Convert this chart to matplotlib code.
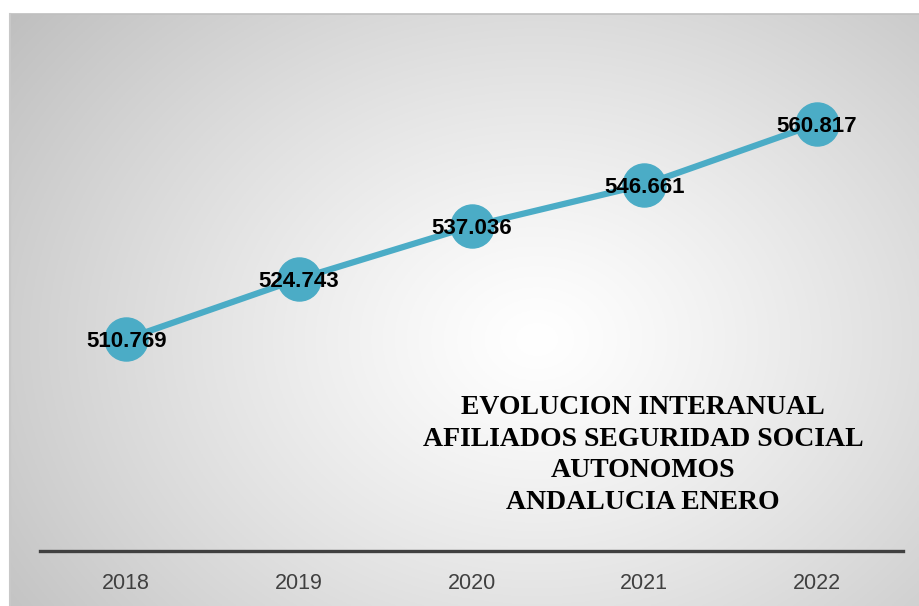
import matplotlib
matplotlib.use("Agg")
import matplotlib.pyplot as plt
import numpy as np

# datos
years = ["2018", "2019", "2020", "2021", "2022"]
afiliados = [510.769, 524.743, 537.036, 546.661, 560.817]
labels = ["510.769", "524.743", "537.036", "546.661", "560.817"]
title_lines = ["EVOLUCION INTERANUAL", "AFILIADOS SEGURIDAD SOCIAL", "AUTONOMOS", "ANDALUCIA ENERO"]

W, H = 919, 606
fig = plt.figure(figsize=(W / 100, H / 100), dpi=100)

# fondo con degradado radial
bg = fig.add_axes([10 / W, 0, 1 - 10 / W, (H - 14) / H])
bg.set_axis_off()
gx, gy = np.meshgrid(np.linspace(0, 1, 400), np.linspace(0, 1, 300))
r = np.sqrt(((gx - 0.58) / 0.66) ** 2 + ((gy - 0.45) / 0.8) ** 2)
r = np.clip(r, 0, 1.2)
shade = 1.0 - 0.22 * r ** 1.2
img = np.dstack([shade, shade, shade])
bg.imshow(img, aspect="auto", extent=[0, 1, 0, 1], origin="lower")
bg.set_xlim(0, 1)
bg.set_ylim(0, 1)
bg.plot([0, 1], [1, 1], color="#bfbfbf", lw=1.2, clip_on=False)
bg.plot([0, 0], [0, 1], color="#c8c8c8", lw=1.5, clip_on=False)

# grafico
ax = fig.add_axes([40 / W, (H - 551) / H, 863 / W, (551 - 60) / H])
ax.patch.set_alpha(0)
x = np.arange(len(years))
ax.plot(x, afiliados, color="#4bacc6", lw=4.5, marker="o", markersize=31,
        markerfacecolor="#4bacc6", markeredgecolor="#4bacc6", solid_capstyle="round")
for xi, yi, lab in zip(x, afiliados, labels):
    ax.text(xi, yi, lab, ha="center", va="center_baseline", fontsize=16,
            fontweight="bold", family="Liberation Sans", color="black")

ax.set_xlim(-0.5, 4.5)
ax.set_ylim(461.4, 575.7)
ax.set_yticks([])
ax.set_xticks(x)
ax.set_xticklabels(years, fontsize=15.5, family="Liberation Sans", color="#404040")
ax.tick_params(axis="x", length=0, pad=16)
for s in ["top", "right", "left"]:
    ax.spines[s].set_visible(False)
ax.spines["bottom"].set_color("#404040")
ax.spines["bottom"].set_linewidth(2.4)

# titulo
fig.text(643 / W, 1 - 455 / H, "\n".join(title_lines), ha="center", va="center",
         fontsize=20, fontweight="bold", family="Liberation Serif",
         color="black", linespacing=1.36)

fig.savefig("out.png", dpi=100)
